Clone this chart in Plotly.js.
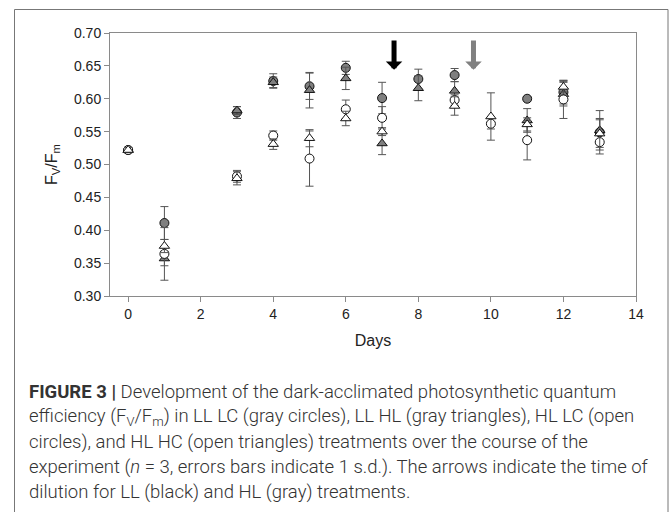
<!DOCTYPE html>
<html>
<head>
<meta charset="utf-8">
<script src="https://cdn.plot.ly/plotly-3.0.1.min.js"></script>
<style>
  html, body { margin: 0; padding: 0; background: #fff; }
  #chart { width: 669px; height: 512px; }
</style>
</head>
<body>
<div id="chart"></div>
<script>
// ---- data ----
const days = [0, 1, 3, 4, 5, 6, 7, 8, 9, 10, 11, 12, 13];

// LL LC (gray circles)
const llLC    = [0.522, 0.411, 0.579, 0.627, 0.619, 0.647, 0.601, 0.630, 0.636, null, 0.600, 0.610, 0.549];
const llLCsd  = [0.004, 0.025, 0.009, 0.011, 0.020, 0.010, 0.024, 0.015, 0.010, null, 0.003, 0.018, 0.033];
// LL HL (gray triangles)
const llHL    = [0.522, 0.357, 0.582, 0.625, 0.613, 0.631, 0.532, 0.616, 0.612, null, 0.567, 0.607, 0.552];
const llHLsd  = [0.004, 0.011, 0.006, 0.008, 0.027, 0.017, 0.017, 0.019, 0.014, null, 0.018, 0.018, 0.018];
// HL LC (open circles)
const hlLC    = [0.522, 0.364, 0.482, 0.544, 0.509, 0.584, 0.571, null, 0.598, 0.562, 0.537, 0.599, 0.534];
const hlLCsd  = [0.004, 0.040, 0.009, 0.007, 0.042, 0.014, 0.017, null, 0.008, 0.008, 0.030, 0.029, 0.012];
// HL HC (open triangles)
const hlHC    = [0.522, 0.376, 0.479, 0.531, 0.540, 0.570, 0.550, null, 0.589, 0.573, 0.561, 0.618, 0.547];
const hlHCsd  = [0.004, 0.010, 0.010, 0.008, 0.013, 0.011, 0.006, null, 0.014, 0.036, 0.010, 0.008, 0.021];

const seriesNames = ['LL LC', 'LL HL', 'HL LC', 'HL HC'];
// dilution arrows: LL (black), HL (gray)
const dilutionDays = [7.33, 9.52];
const dilutionLabels = ['LL', 'HL'];

const xTicks = [0, 2, 4, 6, 8, 10, 12, 14];
const yTicks = [0.30, 0.35, 0.40, 0.45, 0.50, 0.55, 0.60, 0.65, 0.70];

const captionLines = [
  '<b>FIGURE 3 |</b> Development of the dark-acclimated photosynthetic quantum',
  'efficiency (F<sub>V</sub>/F<sub>m</sub>) in LL LC (gray circles), LL HL (gray triangles), HL LC (open',
  'circles), and HL HC (open triangles) treatments over the course of the',
  'experiment (<i>n</i> = 3, errors bars indicate 1 s.d.). The arrows indicate the time of',
  'dilution for LL (black) and HL (gray) treatments.'
];

// ---- styling ----
const GRAY = '#7f7f7f';
function mk(y, sd, name, symbol, fill) {
  return {
    type: 'scatter', mode: 'markers', x: days, y: y, name: name,
    marker: { symbol: symbol, size: 9, color: fill,
              line: { color: '#111', width: 1 } },
    error_y: { type: 'data', array: sd, visible: true, color: '#555', thickness: 1, width: 4 },
    showlegend: false, cliponaxis: false
  };
}
const traces = [
  mk(llLC, llLCsd, seriesNames[0], 'circle', GRAY),
  mk(llHL, llHLsd, seriesNames[1], 'triangle-up', GRAY),
  mk(hlLC, hlLCsd, seriesNames[2], 'circle', '#ffffff'),
  mk(hlHC, hlHCsd, seriesNames[3], 'triangle-up', '#ffffff')
];

// pixel geometry helpers
const W = 669, H = 512;
const M = { l: 110, r: 33, t: 33, b: 216 };
const pw = W - M.l - M.r, ph = H - M.t - M.b;
const px = x => (x - M.l) / pw;
const py = y => (H - M.b - y) / ph;

const arrowColors = ['#000000', '#808080'];
const annotations = dilutionDays.map((d, i) => ({
  x: d, y: 0.644, xref: 'x', yref: 'y',
  ax: d, ay: 0.691, axref: 'x', ayref: 'y',
  text: '', showarrow: true, arrowhead: 1, arrowsize: 0.55, arrowwidth: 5,
  arrowcolor: arrowColors[i], hovertext: dilutionLabels[i]
}));

const lineY = [392, 417, 442, 467, 492];
captionLines.forEach((t, i) => {
  annotations.push({
    xref: 'paper', yref: 'paper', x: px(27), y: py(lineY[i]),
    xanchor: 'left', yanchor: 'middle', showarrow: false, text: t,
    font: { family: 'Roboto, Arial, sans-serif', size: 18.5, color: '#333', weight: 300 }
  });
});

const layout = {
  width: W, height: H,
  margin: M,
  paper_bgcolor: '#fff', plot_bgcolor: '#fff',
  font: { family: 'Arial, Liberation Sans, sans-serif', size: 14, color: '#222' },
  xaxis: {
    range: [-0.5, 14], tickvals: xTicks, ticktext: xTicks.map(String),
    showgrid: false, zeroline: false, showline: true, linecolor: '#8a8a8a', linewidth: 1,
    mirror: true, ticks: 'outside', ticklen: 5, tickcolor: '#8a8a8a',
    title: { text: 'Days', font: { size: 16, color: '#222' }, standoff: 14 },
    automargin: false
  },
  yaxis: {
    range: [0.30, 0.70], tickvals: yTicks, ticktext: yTicks.map(v => v.toFixed(2)),
    showgrid: false, zeroline: false, showline: true, linecolor: '#8a8a8a', linewidth: 1,
    mirror: true, ticks: 'outside', ticklen: 5, tickcolor: '#8a8a8a',
    title: { text: 'F<sub>V</sub>/F<sub>m</sub>', font: { size: 16, color: '#222' }, standoff: 12 },
    automargin: false
  },
  shapes: [{
    type: 'rect', xref: 'paper', yref: 'paper', layer: 'below',
    x0: px(14.5), x1: px(668), y0: py(530), y1: py(9.5),
    line: { color: '#777', width: 1 }, fillcolor: 'rgba(0,0,0,0)'
  }],
  annotations: annotations
};

Plotly.newPlot('chart', traces, layout, { displayModeBar: false, staticPlot: true });
</script>
</body>
</html>
